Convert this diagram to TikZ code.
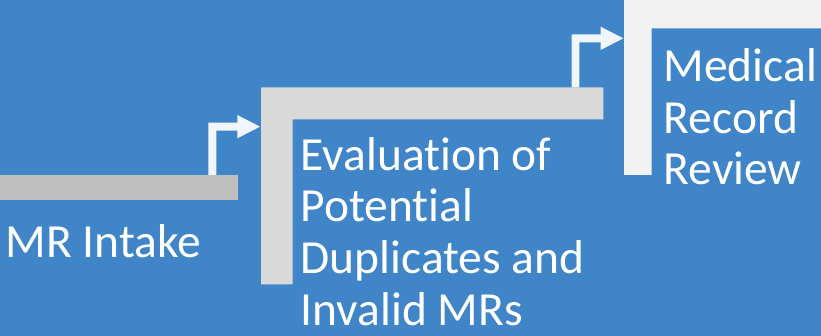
\documentclass[tikz,border=0pt]{standalone}
\usepackage{fontspec}
\setmainfont{Carlito}[Ligatures=NoCommon]
\definecolor{bgblue}{RGB}{63,133,200}
\definecolor{stepA}{RGB}{191,191,191}
\definecolor{stepB}{RGB}{217,217,217}
\definecolor{stepC}{RGB}{242,242,242}
\definecolor{arrowc}{RGB}{240,246,252}
\tikzset{
  lbl/.style={anchor=base west, inner sep=0pt, text=white, align=left,
    font=\fontsize{47.5}{51.6}\selectfont},
  blockarrow/.style={fill=arrowc, draw=none}
}
\begin{document}
\begin{tikzpicture}[x=1pt, y=-1pt]
\fill[bgblue] (0,0) rectangle (821,336);
\useasboundingbox (0,0) rectangle (821,336);
% steps
\fill[stepA] (0,175) rectangle (238,200);
\fill[stepB] (261,87.3) -- (603.3,87.3) -- (603.3,119.3) -- (292.7,119.3) -- (292.7,284.3) -- (261,284.3) -- cycle;
\fill[stepC] (624,0) -- (821,0) -- (821,28.3) -- (651.7,28.3) -- (651.7,175) -- (624,175) -- cycle;
% arrows
\fill[blockarrow] (208.3,175) -- (208.3,122.7) -- (237.3,122.7) -- (237.3,115) -- (260,126.7) -- (237.3,138.3) -- (237.3,130.7) -- (216.3,130.7) -- (216.3,175) -- cycle;
\fill[blockarrow] (571.7,87.3) -- (571.7,34.3) -- (600.7,34.3) -- (600.7,26.7) -- (623.3,38.3) -- (600.7,50) -- (600.7,42.3) -- (579.3,42.3) -- (579.3,87.3) -- cycle;
% labels (anchored at the baseline of the last line)
\node[lbl] (t1) at (5.5,258) {MR Intake};
\node[lbl] (t2) at (300.5,325) {Evaluation of\\Potential\\Duplicates and\\Invalid MRs};
\node[lbl] (t3) at (663.5,185) {Medical\\Record\\Review};
\end{tikzpicture}
\end{document}
